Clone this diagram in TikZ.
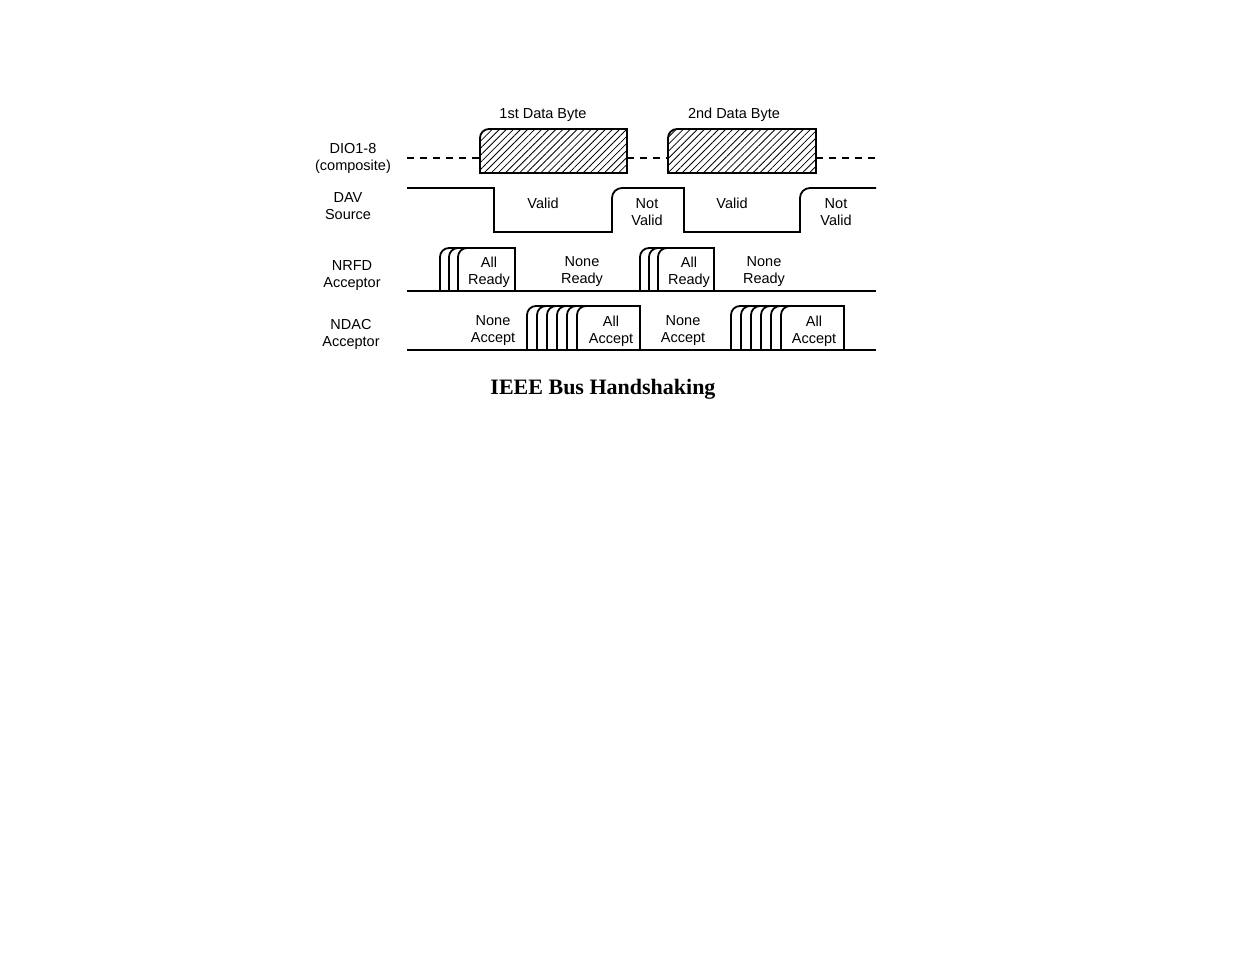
\documentclass[tikz,border=0pt]{standalone}
\usepackage{fontspec}
\setmainfont{Liberation Sans}
\newfontfamily\titlefont{Liberation Serif}
\usetikzlibrary{patterns.meta}
\begin{document}
\begin{tikzpicture}[x=1pt,y=-1pt,
  sig/.style={line width=1.8pt,line join=miter},
  lbl/.style={font=\fontsize{14.5}{17}\selectfont,align=center,inner sep=0pt},
  hatchbox/.style={sig,pattern={Lines[angle=45,distance=5pt,line width=0.8pt]}}]
\useasboundingbox (0,0) rectangle (1235,954);
% DIO
\draw[sig,dashed,dash pattern=on 7pt off 6pt] (407,158) -- (480,158);
\draw[sig,dashed,dash pattern=on 7pt off 6pt] (627,158) -- (668,158);
\draw[sig,dashed,dash pattern=on 7pt off 6pt] (816,158) -- (876,158);
\draw[hatchbox] (480,173) [rounded corners=9pt] -- (480,129) [sharp corners] -- (627,129) -- (627,173) -- cycle;
\draw[hatchbox] (668,173) [rounded corners=9pt] -- (668,129) [sharp corners] -- (816,129) -- (816,173) -- cycle;
% DAV
\draw[sig] (407,188) -- (494,188) -- (494,232) -- (612,232) [rounded corners=10pt] -- (612,188) [sharp corners] -- (684,188) -- (684,232) -- (800,232) [rounded corners=10pt] -- (800,188) [sharp corners] -- (876,188);
% NRFD
\draw[sig] (407,291) -- (515,291);
\foreach \x in {440,449,458}{\draw[sig,rounded corners=9pt] (\x,291) -- (\x,248) -- (480,248);}
\draw[sig] (470,248) -- (515,248) -- (515,291) -- (714,291);
\foreach \x in {640,649,658}{\draw[sig,rounded corners=9pt] (\x,291) -- (\x,248) -- (680,248);}
\draw[sig] (670,248) -- (714,248) -- (714,291) -- (876,291);
% NDAC
\draw[sig] (407,350) -- (640,350);
\foreach \x in {527,537,547,557,567,577}{\draw[sig,rounded corners=9pt] (\x,350) -- (\x,306) -- (600,306);}
\draw[sig] (590,306) -- (640,306) -- (640,350) -- (844,350);
\foreach \x in {731,741,751,761,771,781}{\draw[sig,rounded corners=9pt] (\x,350) -- (\x,306) -- (804,306);}
\draw[sig] (794,306) -- (844,306) -- (844,350) -- (876,350);
% labels
\node[lbl] (l1) at (353,158) {DIO1-8\\(composite)};
\node[lbl] (l2) at (348,206) {DAV\\Source};
\node[lbl] (l3) at (352,276) {NRFD\\Acceptor};
\node[lbl] (l4) at (351,334) {NDAC\\Acceptor};
\node[lbl] (b1) at (543,115) {1st Data Byte};
\node[lbl] (b2) at (734,115) {2nd Data Byte};
\node[lbl] (v1) at (543,203) {Valid};
\node[lbl] (n1) at (647,212) {Not\\Valid};
\node[lbl] (v2) at (732,203) {Valid};
\node[lbl] (n2) at (836,212) {Not\\Valid};
\node[lbl] (r1) at (489,272) {All\\Ready};
\node[lbl] (r2) at (582,272) {None\\Ready};
\node[lbl] (r3) at (689,272) {All\\Ready};
\node[lbl] (r4) at (764,272) {None\\Ready};
\node[lbl] (a1) at (493,331) {None\\Accept};
\node[lbl] (a2) at (611,331) {All\\Accept};
\node[lbl] (a3) at (683,331) {None\\Accept};
\node[lbl] (a4) at (814,331) {All\\Accept};
\node[inner sep=0pt,font=\titlefont\bfseries\fontsize{22}{26}\selectfont] (t) at (603,389) {IEEE Bus Handshaking};
\end{tikzpicture}
\end{document}
